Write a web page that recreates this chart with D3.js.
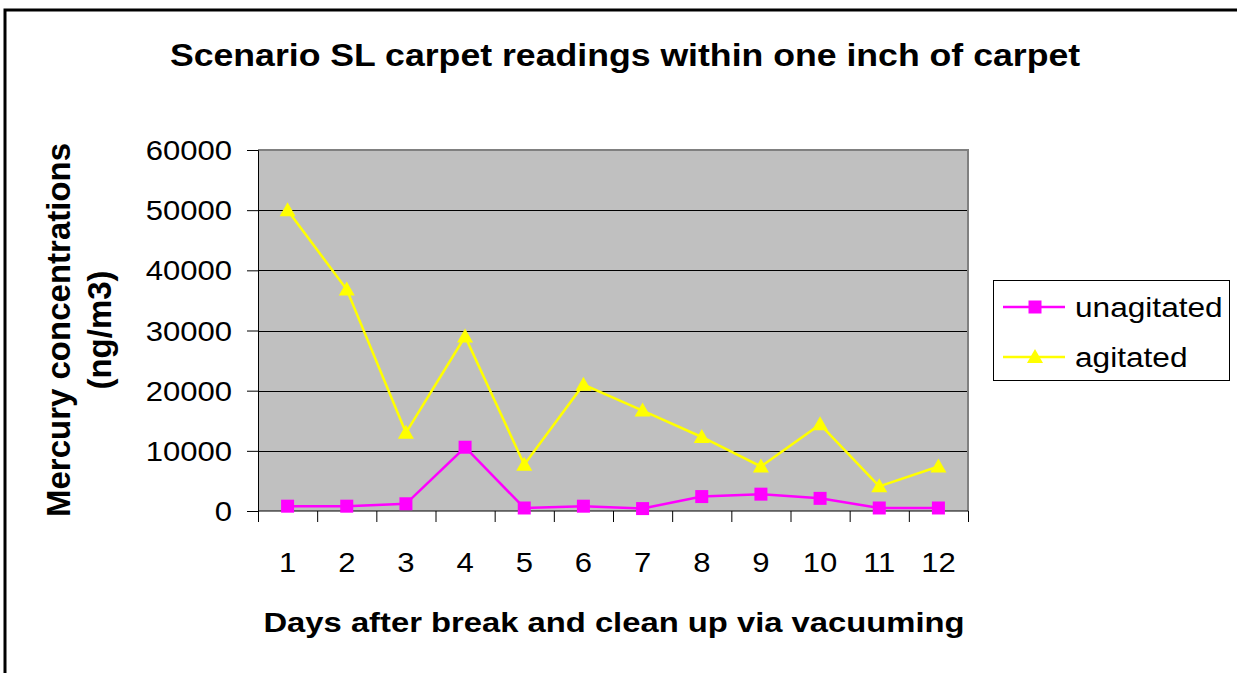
<!DOCTYPE html>
<html>
<head>
<meta charset="utf-8">
<script src="https://cdn.jsdelivr.net/npm/d3@7"></script>
<style>
  body { margin: 0; background: #fff; }
  svg { display: block; font-family: Arial, "Liberation Sans", sans-serif; }
</style>
</head>
<body>
<div id="chart"></div>
<script>
// chart data
const days = [1, 2, 3, 4, 5, 6, 7, 8, 9, 10, 11, 12];
const unagitated = [800, 800, 1200, 10600, 500, 800, 400, 2400, 2800, 2100, 500, 500];
const agitated = [50000, 36800, 13000, 29000, 7700, 21000, 16700, 12300, 7400, 14400, 4100, 7400];
const yTicks = [0, 10000, 20000, 30000, 40000, 50000, 60000];
const seriesNames = ['unagitated', 'agitated'];

const W = 1237, H = 673,
	SX = 1.15, // text in the reference is drawn a little wide
	margin = { left: 258, right: 269, top: 150, bottom: 162 };

let svg = d3.select('#chart').append('svg')
	.attr('width', W)
	.attr('height', H);

// outer chart frame
svg.append('rect')
	.attr('x', 5).attr('y', 10)
	.attr('width', 1250).attr('height', 700)
	.attr('fill', '#fff')
	.attr('stroke', '#000')
	.attr('stroke-width', 3);

let x = d3.scaleBand()
	.domain(days)
	.range([margin.left, W - margin.right]);

let y = d3.scaleLinear()
	.domain([0, 60000])
	.range([H - margin.bottom, margin.top]);

// helper for horizontally stretched text
function label(parent, tx, ty, str, size, weight, anchor) {
	return parent.append('text')
		.attr('transform', 'translate(' + tx + ',' + ty + ') scale(' + SX + ',1)')
		.attr('text-anchor', anchor || 'middle')
		.attr('font-size', size)
		.attr('font-weight', weight || 'normal')
		.attr('fill', '#000')
		.text(str);
}

// plot area
svg.append('rect')
	.attr('x', x.range()[0]).attr('y', y.range()[1])
	.attr('width', x.range()[1] - x.range()[0])
	.attr('height', y.range()[0] - y.range()[1])
	.attr('fill', '#c0c0c0');

// gridlines
svg.append('g')
	.selectAll('line')
	.data(yTicks.slice(1))
	.join('line')
	.attr('x1', x.range()[0]).attr('x2', x.range()[1])
	.attr('y1', d => Math.round(y(d)) + 0.5).attr('y2', d => Math.round(y(d)) + 0.5)
	.attr('stroke', '#000')
	.attr('stroke-width', 1);

// grey border on top and right
svg.append('path')
	.attr('d', 'M' + x.range()[0] + ',' + y.range()[1] + 'H' + x.range()[1] + 'V' + y.range()[0])
	.attr('fill', 'none')
	.attr('stroke', '#808080')
	.attr('stroke-width', 2);

// y axis
let yAxis = svg.append('g')
	.attr('transform', 'translate(' + x.range()[0] + ',0)')
	.call(d3.axisLeft(y).tickValues(yTicks).tickSize(11).tickFormat(''));
yAxis.select('.domain').attr('stroke', '#000');
yAxis.selectAll('.tick line').attr('stroke', '#000');
yTicks.forEach(t => label(svg, 232, y(t) + 10, String(t), 27, 'normal', 'end'));

// x axis, ticks sit between categories
let xAxis = svg.append('g')
	.attr('transform', 'translate(0,' + y.range()[0] + ')');
xAxis.append('line')
	.attr('x1', x.range()[0]).attr('x2', x.range()[1])
	.attr('stroke', '#000');
xAxis.selectAll('line.tk')
	.data(days.concat([null]))
	.join('line')
	.attr('class', 'tk')
	.attr('x1', (d, i) => x.range()[0] + i * x.step() + 0.5)
	.attr('x2', (d, i) => x.range()[0] + i * x.step() + 0.5)
	.attr('y1', 0).attr('y2', 11)
	.attr('stroke', '#000');
days.forEach(d => label(svg, x(d) + x.bandwidth() / 2, 572, String(d), 27));

// series lines and markers
let cx = d => x(d) + x.bandwidth() / 2;
let line = d3.line().x((v, i) => cx(days[i])).y(v => y(v));

svg.append('path')
	.datum(unagitated)
	.attr('d', line)
	.attr('fill', 'none')
	.attr('stroke', '#ff00ff')
	.attr('stroke-width', 2.5);

svg.append('path')
	.datum(agitated)
	.attr('d', line)
	.attr('fill', 'none')
	.attr('stroke', '#ffff00')
	.attr('stroke-width', 2.5);

let square = d3.symbol().type(d3.symbolSquare).size(169);
let triangle = 'M0,-8L8,6L-8,6Z';

svg.append('g')
	.selectAll('path')
	.data(unagitated)
	.join('path')
	.attr('transform', (v, i) => 'translate(' + cx(days[i]) + ',' + y(v) + ')')
	.attr('d', square)
	.attr('fill', '#ff00ff');

svg.append('g')
	.selectAll('path')
	.data(agitated)
	.join('path')
	.attr('transform', (v, i) => 'translate(' + cx(days[i]) + ',' + y(v) + ')')
	.attr('d', triangle)
	.attr('fill', '#ffff00');

// titles
label(svg, 625, 66, 'Scenario SL carpet readings within one inch of carpet', 31, 'bold');
label(svg, 614, 632, 'Days after break and clean up via vacuuming', 28.5, 'bold');

svg.append('text')
	.attr('transform', 'translate(70,330) rotate(-90)')
	.attr('text-anchor', 'middle')
	.attr('font-size', 33)
	.attr('font-weight', 'bold')
	.text('Mercury concentrations');
svg.append('text')
	.attr('transform', 'translate(111,330) rotate(-90)')
	.attr('text-anchor', 'middle')
	.attr('font-size', 33)
	.attr('font-weight', 'bold')
	.text('(ng/m3)');

// legend
let legend = svg.append('g');
legend.append('rect')
	.attr('x', 993.5).attr('y', 280.5)
	.attr('width', 236).attr('height', 100)
	.attr('fill', '#fff')
	.attr('stroke', '#000')
	.attr('stroke-width', 1);

let legendY = [307, 357],
	legendColors = ['#ff00ff', '#ffff00'];
seriesNames.forEach((name, i) => {
	legend.append('line')
		.attr('x1', 1003).attr('x2', 1065)
		.attr('y1', legendY[i]).attr('y2', legendY[i])
		.attr('stroke', legendColors[i])
		.attr('stroke-width', 2.5);
	legend.append('path')
		.attr('transform', 'translate(1035,' + legendY[i] + ')')
		.attr('d', i === 0 ? square : triangle)
		.attr('fill', legendColors[i]);
	label(legend, 1075, legendY[i] + 10, name, 27.5, 'normal', 'start');
});
</script>
</body>
</html>
